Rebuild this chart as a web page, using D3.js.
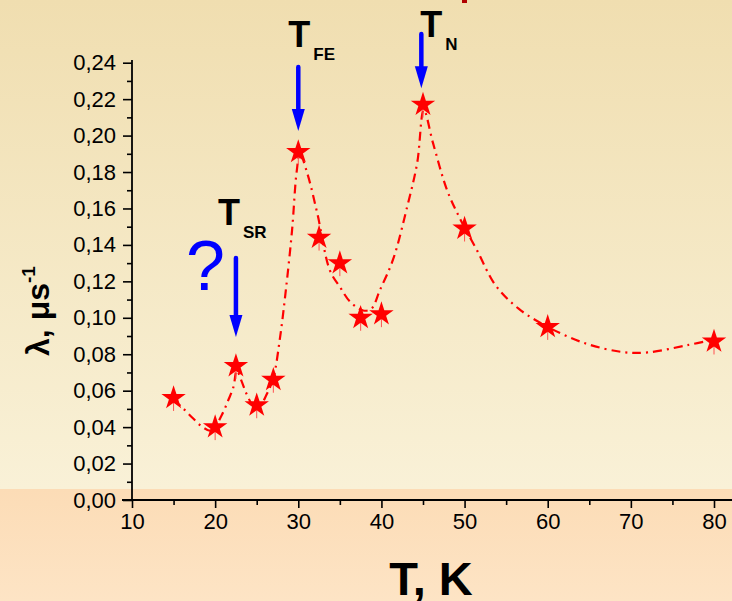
<!DOCTYPE html>
<html>
<head>
<meta charset="utf-8">
<script src="https://cdn.jsdelivr.net/npm/d3@7"></script>
<style>
  body { margin: 0; }
  svg { display: block; font-family: "Liberation Sans", Arial, sans-serif; }
</style>
</head>
<body>
<div id="chart"></div>
<script>
// measured points
const temps = [15, 20, 22.5, 25, 27, 30, 32.5, 35, 37.5, 40, 45, 50, 60, 80];
const lambdas = [0.056, 0.040, 0.0735, 0.052, 0.066, 0.191, 0.144, 0.130, 0.100, 0.102, 0.217, 0.149, 0.095, 0.087];

// guide curve (dash-dot)
const fitT = [15, 16.1, 17.3, 18.5, 19.6, 20.8, 21.6, 22.2, 22.6, 23.2, 23.8, 24.6, 25.4, 26.2, 27, 27.8, 28.5, 29.25, 29.8, 30.2, 31.1, 32.3, 33.8, 35, 36.2, 37.8, 38.8, 39.8, 41.4, 43.1, 44.3, 45.1, 46.2, 47.9, 49.5, 51.5, 53.7, 56.5, 60, 64.5, 69, 72, 76.8, 80];
const fitL = [0.055, 0.0505, 0.045, 0.040, 0.038, 0.0467, 0.055, 0.062, 0.071, 0.065, 0.058, 0.052, 0.052, 0.058, 0.067, 0.089, 0.115, 0.148, 0.180, 0.190, 0.179, 0.157, 0.126, 0.117, 0.109, 0.104, 0.105, 0.115, 0.132, 0.161, 0.185, 0.214, 0.196, 0.170, 0.154, 0.137, 0.118, 0.105, 0.095, 0.086, 0.0812, 0.081, 0.085, 0.088];

// axes
const xTicks = [10, 20, 30, 40, 50, 60, 70, 80];
const yTicks = [0, 0.02, 0.04, 0.06, 0.08, 0.10, 0.12, 0.14, 0.16, 0.18, 0.20, 0.22, 0.24];

// transition markers: name, subscript, T, arrow top λ, arrow tip λ
const markNames = ["T", "T", "T"];
const markSubs = ["SR", "FE", "N"];
const markT = [22.5, 30, 44.8];
const markTop = [0.1328, 0.2376, 0.2557];
const markTip = [0.0895, 0.2025, 0.226];

const width = 732, height = 601;

const svg = d3.select("#chart").append("svg")
  .attr("width", width)
  .attr("height", height);

// background
const defs = svg.append("defs");
const g1 = defs.append("linearGradient").attr("id", "bgTop")
  .attr("x1", 0).attr("y1", 0).attr("x2", 0).attr("y2", 1);
g1.append("stop").attr("offset", "0%").attr("stop-color", "rgb(240,222,176)");
g1.append("stop").attr("offset", "100%").attr("stop-color", "rgb(249,241,215)");
const g2 = defs.append("linearGradient").attr("id", "bgBot")
  .attr("x1", 0).attr("y1", 0).attr("x2", 0).attr("y2", 1);
g2.append("stop").attr("offset", "0%").attr("stop-color", "rgb(252,220,182)");
g2.append("stop").attr("offset", "100%").attr("stop-color", "rgb(253,228,197)");

svg.append("rect").attr("width", width).attr("height", 489).attr("fill", "url(#bgTop)");
svg.append("rect").attr("y", 489).attr("width", width).attr("height", height - 489).attr("fill", "url(#bgBot)");

// scales
const x = d3.scaleLinear().domain([10, 80]).range([132, 714]);
const y = d3.scaleLinear().domain([0, 0.24]).range([500, 62.7]);

const fmt = d => d3.format(".2f")(d).replace(".", ",");

// minor ticks
svg.append("g")
  .attr("transform", `translate(${x(10)},0)`)
  .call(d3.axisLeft(y).tickValues(d3.range(0.01, 0.24, 0.02)).tickSize(5).tickFormat(""))
  .call(g => g.select(".domain").remove());
svg.append("g")
  .attr("transform", `translate(0,${y(0)})`)
  .call(d3.axisBottom(x).tickValues(d3.range(15, 81, 10)).tickSize(5).tickFormat(""))
  .call(g => g.select(".domain").remove());

// major ticks
const yAxis = svg.append("g")
  .attr("transform", `translate(${x(10)},0)`)
  .call(d3.axisLeft(y).tickValues(yTicks).tickSize(9).tickPadding(7).tickFormat(fmt).tickSizeOuter(0));
const xAxis = svg.append("g")
  .attr("transform", `translate(0,${y(0)})`)
  .call(d3.axisBottom(x).tickValues(xTicks).tickSize(8).tickPadding(5).tickSizeOuter(0));

[yAxis, xAxis].forEach(a => {
  a.selectAll("text").attr("font-size", 22).attr("fill", "#000")
    .attr("font-family", "'Liberation Sans', Arial, sans-serif");
  a.selectAll("line").attr("stroke", "#000");
  a.select(".domain").remove();
});
svg.selectAll("line").attr("stroke-width", 1.6);

// axis lines
svg.append("line").attr("x1", x(10)).attr("x2", x(10)).attr("y1", 60).attr("y2", y(0))
  .attr("stroke", "#000").attr("stroke-width", 1.8);
svg.append("line").attr("x1", 122).attr("x2", width).attr("y1", y(0)).attr("y2", y(0))
  .attr("stroke", "#000").attr("stroke-width", 1.8);

// guide curve
const line = d3.line()
  .x(d => x(d[0]))
  .y(d => y(d[1]))
  .curve(d3.curveCatmullRom.alpha(0.5));
svg.append("path")
  .datum(fitT.map((t, i) => [t, fitL[i]]))
  .attr("d", line)
  .attr("fill", "none")
  .attr("stroke", "#ff0000")
  .attr("stroke-width", 2.2)
  .attr("stroke-dasharray", "9,5,2,5");

// stars
const pts = temps.map((t, i) => [t, lambdas[i]]);
svg.append("g").selectAll("line")
  .data(pts).enter().append("line")
  .attr("x1", d => x(d[0])).attr("x2", d => x(d[0]))
  .attr("y1", d => y(d[1])).attr("y2", d => y(d[1]) + 13)
  .attr("stroke", "#ff5050").attr("stroke-width", 1);
svg.append("g").selectAll("path")
  .data(pts).enter().append("path")
  .attr("transform", d => `translate(${x(d[0])},${y(d[1])})`)
  .attr("d", d3.symbol(d3.symbolStar, 185))
  .attr("fill", "#ff0000");

// arrows
const arrows = svg.append("g");
markT.forEach((t, i) => {
  const ax = x(t), top = y(markTop[i]), tip = y(markTip[i]);
  arrows.append("line")
    .attr("x1", ax).attr("x2", ax).attr("y1", top).attr("y2", tip - 18)
    .attr("stroke", "#0000ff").attr("stroke-width", 4.5).attr("stroke-linecap", "round");
  arrows.append("path")
    .attr("d", `M${ax - 6.5},${tip - 22} L${ax + 6.5},${tip - 22} L${ax},${tip} Z`)
    .attr("fill", "#0000ff");
});

// labels next to arrows
const labelDx = [-18, -10, -1];
const labelDy = [-33, -20, 3];
markT.forEach((t, i) => {
  const tx = svg.append("text")
    .attr("x", x(t) + labelDx[i])
    .attr("y", y(markTop[i]) + labelDy[i])
    .attr("font-weight", "bold")
    .attr("fill", "#000");
  tx.append("tspan").attr("font-size", 36).text(markNames[i]);
  tx.append("tspan").attr("font-size", 17).attr("dx", 3).attr("dy", 13).text(markSubs[i]);
});

// question mark
svg.append("text")
  .attr("x", 186).attr("y", 290)
  .attr("font-size", 70)
  .attr("fill", "#0000ff")
  .text("?");

// cut-off mark at the top
svg.append("rect").attr("x", 462).attr("y", 0).attr("width", 5).attr("height", 3).attr("fill", "#b00000");

// axis titles
const yl = svg.append("text")
  .attr("transform", "translate(49,311) rotate(-90)")
  .attr("text-anchor", "middle")
  .attr("font-weight", "bold")
  .attr("font-size", 32)
  .attr("fill", "#000");
yl.append("tspan").text("λ, μs");
yl.append("tspan").attr("font-size", 19).attr("dy", -14).text("-1");

svg.append("text")
  .attr("x", 431).attr("y", 595)
  .attr("text-anchor", "middle")
  .attr("font-weight", "bold")
  .attr("font-size", 47)
  .attr("fill", "#000")
  .text("T, K");
</script>
</body>
</html>
